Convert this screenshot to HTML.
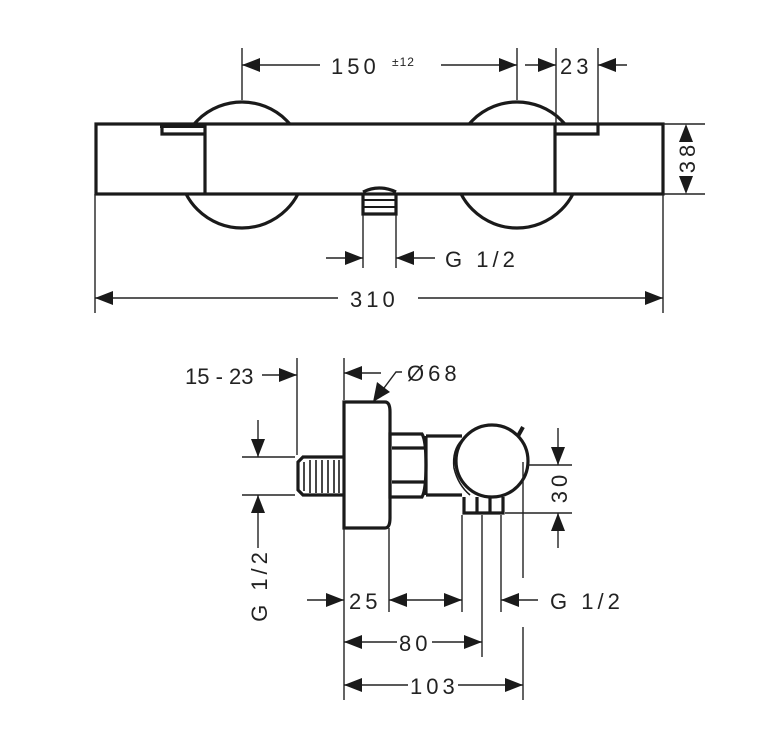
<!DOCTYPE html>
<html><head><meta charset="utf-8"><style>
html,body{margin:0;padding:0;background:#fff;}
svg{display:block}
text{font-family:"Liberation Sans",sans-serif;font-size:22px;fill:#222;letter-spacing:4px}
</style></head><body>
<svg width="778" height="750" viewBox="0 0 778 750" xmlns="http://www.w3.org/2000/svg">
<defs>
<clipPath id="outside"><path d="M0 0H778V750H0Z M95 124V194H663V124Z" clip-rule="evenodd"/></clipPath>
</defs>
<g fill="none" stroke="#1a1a1a" stroke-width="3.2">
  <!-- top view circles (outside bar only) -->
  <g clip-path="url(#outside)">
    <circle cx="242" cy="165" r="63"/>
    <circle cx="517" cy="165" r="63"/>
  </g>
  <rect x="96" y="124" width="567" height="70"/>
  <line x1="205" y1="124" x2="205" y2="194"/>
  <line x1="555" y1="124" x2="555" y2="194"/>
  <path d="M162 125V134H204"/>
  <path d="M556 134H598V125"/>
  <line x1="160" y1="126" x2="205" y2="126" stroke-width="4"/>
  <!-- outlet -->
  <path d="M363 194V214H396V194"/>
  <line x1="364" y1="200" x2="395" y2="200" stroke-width="2"/>
  <line x1="364" y1="207" x2="395" y2="207" stroke-width="2"/>
  <path d="M363 192Q379 184 396 192"/>
</g>
<g stroke="#222" stroke-width="1.4" fill="none">
  <!-- 150 -->
  <line x1="242" y1="48" x2="242" y2="100"/>
  <line x1="517" y1="48" x2="517" y2="100"/>
  <line x1="242" y1="65" x2="320" y2="65"/>
  <line x1="441" y1="65" x2="517" y2="65"/>
  <!-- 23 -->
  <line x1="556" y1="48" x2="556" y2="124"/>
  <line x1="598" y1="48" x2="598" y2="124"/>
  <line x1="525" y1="65" x2="556" y2="65"/>
  <line x1="598" y1="65" x2="627" y2="65"/>
  <!-- 38 -->
  <line x1="663" y1="124" x2="705" y2="124"/>
  <line x1="663" y1="194" x2="705" y2="194"/>
  <!-- G1/2 top -->
  <line x1="363" y1="215" x2="363" y2="268"/>
  <line x1="396" y1="215" x2="396" y2="268"/>
  <line x1="326" y1="258" x2="363" y2="258"/>
  <line x1="396" y1="258" x2="435" y2="258"/>
  <!-- 310 -->
  <line x1="95" y1="194" x2="95" y2="313"/>
  <line x1="663" y1="194" x2="663" y2="313"/>
  <line x1="95" y1="298" x2="338" y2="298"/>
  <line x1="418" y1="298" x2="663" y2="298"/>
</g>
<g fill="#1a1a1a">
  <polygon points="242,65 260,58 260,72"/>
  <polygon points="517,65 499,58 499,72"/>
  <polygon points="556,65 538,58 538,72"/>
  <polygon points="598,65 616,58 616,72"/>
  <polygon points="686,124 679,142 693,142"/>
  <polygon points="686,194 679,176 693,176"/>
  <polygon points="363,258 345,251 345,265"/>
  <polygon points="396,258 414,251 414,265"/>
  <polygon points="95,298 113,291 113,305"/>
  <polygon points="663,298 645,291 645,305"/>
</g>
<text x="331" y="74">150</text>
<text x="392" y="66" style="font-size:12px;letter-spacing:1px">±12</text>
<text x="560" y="74">23</text>
<text x="445" y="267">G 1/2</text>
<text x="350" y="307">310</text>
<text transform="translate(695,159) rotate(-90)" text-anchor="middle" x="2">38</text>

<!-- side view -->
<g fill="none" stroke="#1a1a1a" stroke-width="3.2">
  <path d="M344 402H385Q390 402 390 412V518Q390 528 385 528H344Z"/>
  <!-- threaded inlet -->
  <path d="M343 457H303L298 462V490L303 495H343"/>
  <!-- nut -->
  <path d="M390 434H422Q426 440 426 465Q426 490 422 497H390Z"/>
  <line x1="392" y1="448" x2="424" y2="448"/>
  <line x1="392" y1="482" x2="424" y2="482"/>
  <!-- body -->
  <path d="M426 436H462M426 495H462"/>
  <line x1="426" y1="436" x2="426" y2="495"/>
  <circle cx="492" cy="461" r="36"/>
  <path d="M464 497V513H503V497"/>
  <line x1="477" y1="497" x2="477" y2="513"/>
  <line x1="490" y1="497" x2="490" y2="513"/>
  <line x1="518" y1="436" x2="523" y2="427" stroke-width="4"/>
</g>
<g stroke="#1a1a1a" stroke-width="1.6">
  <line x1="304" y1="462" x2="304" y2="491"/><line x1="310" y1="460" x2="310" y2="493"/>
  <line x1="316" y1="460" x2="316" y2="493"/><line x1="322" y1="460" x2="322" y2="493"/>
  <line x1="328" y1="460" x2="328" y2="493"/><line x1="334" y1="460" x2="334" y2="493"/>
  <line x1="339" y1="460" x2="339" y2="493"/>
  <path d="M462 440Q452 450 454 468Q458 485 470 495" fill="none"/>
</g>
<g stroke="#222" stroke-width="1.4" fill="none">
  <!-- 15-23 -->
  <line x1="297" y1="358" x2="297" y2="455"/>
  <line x1="262" y1="375" x2="297" y2="375"/>
  <!-- Ø68 -->
  <line x1="344" y1="358" x2="344" y2="400"/>
  <line x1="344" y1="373" x2="381" y2="373"/>
  <path d="M402 372H396L378 396"/>
  <!-- G1/2 vertical -->
  <line x1="242" y1="457" x2="295" y2="457"/>
  <line x1="242" y1="495" x2="295" y2="495"/>
  <line x1="258" y1="420" x2="258" y2="457"/>
  <line x1="258" y1="495" x2="258" y2="548"/>
  <!-- 30 -->
  <line x1="528" y1="465" x2="572" y2="465"/>
  <line x1="505" y1="513" x2="572" y2="513"/>
  <line x1="558" y1="428" x2="558" y2="465"/>
  <line x1="558" y1="513" x2="558" y2="548"/>
  <!-- ext lines -->
  <line x1="344" y1="528" x2="344" y2="700"/>
  <line x1="389" y1="528" x2="389" y2="612"/>
  <line x1="462" y1="515" x2="462" y2="612"/>
  <line x1="482" y1="515" x2="482" y2="657"/>
  <line x1="501" y1="515" x2="501" y2="612"/>
  <line x1="523" y1="462" x2="523" y2="578"/>
  <line x1="523" y1="627" x2="523" y2="700"/>
  <!-- 25 row -->
  <line x1="307" y1="600" x2="344" y2="600"/>
  <line x1="389" y1="600" x2="462" y2="600"/>
  <line x1="501" y1="600" x2="538" y2="600"/>
  <!-- 80 -->
  <line x1="344" y1="642" x2="397" y2="642"/>
  <line x1="432" y1="642" x2="482" y2="642"/>
  <!-- 103 -->
  <line x1="344" y1="685" x2="408" y2="685"/>
  <line x1="458" y1="685" x2="523" y2="685"/>
</g>
<g fill="#1a1a1a">
  <polygon points="297,375 279,368 279,382"/>
  <polygon points="344,373 362,366 362,380"/>
  <polygon points="373,402 377,382 390,392"/>
  <polygon points="258,457 251,439 265,439"/>
  <polygon points="258,495 251,513 265,513"/>
  <polygon points="558,465 551,447 565,447"/>
  <polygon points="558,513 551,531 565,531"/>
  <polygon points="344,600 326,593 326,607"/>
  <polygon points="389,600 407,593 407,607"/>
  <polygon points="462,600 444,593 444,607"/>
  <polygon points="501,600 519,593 519,607"/>
  <polygon points="344,642 362,635 362,649"/>
  <polygon points="482,642 464,635 464,649"/>
  <polygon points="344,685 362,678 362,692"/>
  <polygon points="523,685 505,678 505,692"/>
</g>
<text x="185" y="384" style="letter-spacing:0">15 - 23</text>
<text x="407" y="381">Ø68</text>
<text x="349" y="609">25</text>
<text x="550" y="609">G 1/2</text>
<text x="399" y="651">80</text>
<text x="410" y="694">103</text>
<text transform="translate(267,585) rotate(-90)" text-anchor="middle">G 1/2</text>
<text transform="translate(567,489) rotate(-90)" text-anchor="middle" x="2">30</text>
</svg>
</body></html>
